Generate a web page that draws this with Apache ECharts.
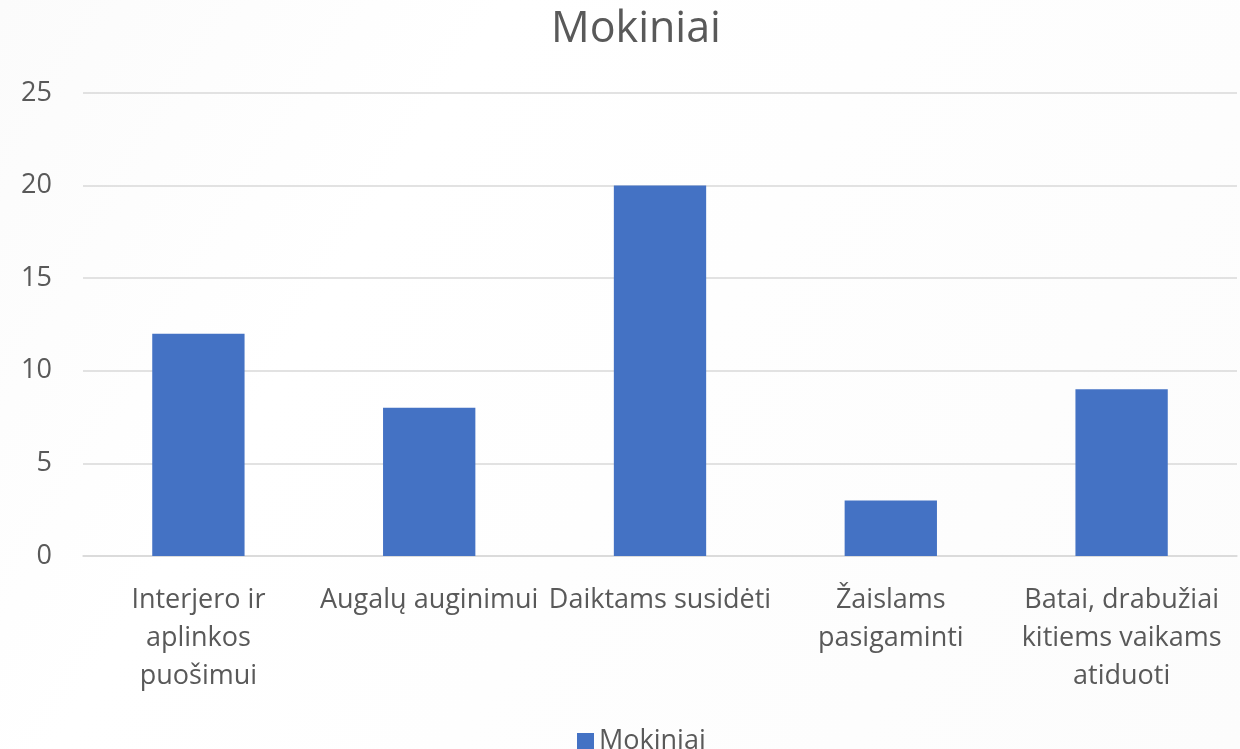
<!DOCTYPE html>
<html>
<head>
<meta charset="utf-8">
<script src="https://cdn.jsdelivr.net/npm/echarts@6/dist/echarts.min.js"></script>
<style>
  html, body { margin: 0; padding: 0; }
  #chart { width: 1240px; height: 749px; }
</style>
</head>
<body>
<div id="chart"></div>
<script>
// duomenys
const categories = [
  'Interjero ir aplinkos puošimui',
  'Augalų auginimui',
  'Daiktams susidėti',
  'Žaislams pasigaminti',
  'Batai, drabužiai kitiems vaikams atiduoti'
];
// kaip Excel laužo žymes
const categoryLabels = [
  'Interjero ir\naplinkos\npuošimui',
  'Augalų auginimui',
  'Daiktams susidėti',
  'Žaislams\npasigaminti',
  'Batai, drabužiai\nkitiems vaikams\natiduoti'
];
const mokiniai = [12, 8, 20, 3, 9];
const seriesName = 'Mokiniai';

const textColor = '#595959';
const font = '"Open Sans", "Noto Sans", sans-serif';

const chart = echarts.init(document.getElementById('chart'));

chart.setOption({
  backgroundColor: new echarts.graphic.LinearGradient(0, 0, 1, 1, [
    { offset: 0, color: '#fbfbfb' },
    { offset: 0.3, color: '#ffffff' },
    { offset: 1, color: '#fcfcfc' }
  ]),
  textStyle: { fontFamily: font },
  title: {
    text: seriesName,
    left: 546,
    top: 3,
    textStyle: { color: textColor, fontSize: 43, fontWeight: 'normal', fontFamily: font }
  },
  legend: {
    data: [seriesName],
    left: 572,
    top: 723,
    icon: 'rect',
    itemWidth: 17,
    itemHeight: 17,
    itemGap: 8,
    textStyle: { color: textColor, fontSize: 27, fontFamily: font }
  },
  grid: { left: 83, right: 3, top: 93, bottom: 193, containLabel: false },
  xAxis: {
    type: 'category',
    data: categories,
    axisLine: { lineStyle: { color: '#d9d9d9', width: 1.5 } },
    axisTick: { show: false },
    axisLabel: {
      color: textColor,
      fontSize: 27,
      lineHeight: 38,
      margin: 25,
      interval: 0,
      fontFamily: font,
      formatter: (v, i) => categoryLabels[i]
    }
  },
  yAxis: {
    type: 'value',
    min: 0,
    max: 25,
    interval: 5,
    axisLine: { show: false },
    axisTick: { show: false },
    splitLine: { lineStyle: { color: '#d9d9d9', width: 1.5 } },
    axisLabel: { color: textColor, fontSize: 27, margin: 31, fontFamily: font }
  },
  series: [{
    name: seriesName,
    type: 'bar',
    data: mokiniai,
    barWidth: '40%',
    itemStyle: { color: '#4472c4' }
  }]
});
</script>
</body>
</html>
